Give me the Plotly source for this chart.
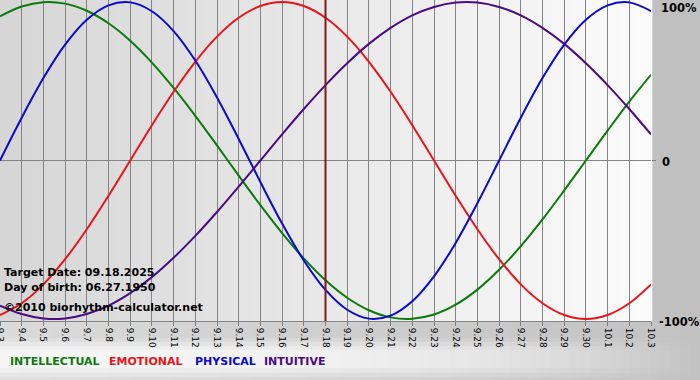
import plotly.graph_objects as go

# ---------------- data ----------------
dates = ["9.3", "9.4", "9.5", "9.6", "9.7", "9.8", "9.9", "9.10", "9.11", "9.12",
         "9.13", "9.14", "9.15", "9.16", "9.17", "9.18", "9.19", "9.20", "9.21",
         "9.22", "9.23", "9.24", "9.25", "9.26", "9.27", "9.28", "9.29", "9.30",
         "10.1", "10.2", "10.3"]

intellectual = [0.910, 0.972, 0.999, 0.990, 0.945, 0.866, 0.756, 0.618, 0.458, 0.282,
                0.095, -0.095, -0.282, -0.458, -0.618, -0.756, -0.866, -0.945, -0.990,
                -0.999, -0.972, -0.910, -0.815, -0.690, -0.541, -0.372, -0.189, 0.000,
                0.189, 0.372, 0.541]

emotional = [-0.975, -0.901, -0.782, -0.623, -0.434, -0.223, 0.000, 0.223, 0.434, 0.623,
             0.782, 0.901, 0.975, 1.000, 0.975, 0.901, 0.782, 0.623, 0.434, 0.223,
             0.000, -0.223, -0.434, -0.623, -0.782, -0.901, -0.975, -1.000, -0.975,
             -0.901, -0.782]

physical = [0.000, 0.270, 0.520, 0.731, 0.888, 0.979, 0.998, 0.942, 0.817, 0.631,
            0.398, 0.136, -0.136, -0.398, -0.631, -0.817, -0.942, -0.998, -0.979,
            -0.888, -0.731, -0.520, -0.270, 0.000, 0.270, 0.520, 0.731, 0.888, 0.979,
            0.998, 0.942]

intuitive = [-0.916, -0.969, -0.997, -0.997, -0.969, -0.916, -0.837, -0.736, -0.614,
             -0.476, -0.325, -0.165, 0.000, 0.165, 0.325, 0.476, 0.614, 0.736, 0.837,
             0.916, 0.969, 0.997, 0.997, 0.969, 0.916, 0.837, 0.736, 0.614, 0.476,
             0.325, 0.165]

series_names = ["INTELLECTUAL", "EMOTIONAL", "PHYSICAL", "INTUITIVE"]
target_date = "9.18"
target_text = "Target Date: 09.18.2025"
birth_text = "Day of birth: 06.27.1950"
credit_text = "\u00a92010 biorhythm-calculator.net"
y_labels = ["100%", "0", "-100%"]

# ---------------- style ----------------
W, H = 700, 380
PL, PR, PT, PB = 0, 651, 0, 321          # plot area in pixels
colors = {"INTELLECTUAL": "#0b7a0b", "EMOTIONAL": "#e8141c",
          "PHYSICAL": "#0a0acc", "INTUITIVE": "#4b0a82"}
bold = "DejaVu Sans"


def px_x(p):
    return (p - PL) / (PR - PL)


def px_y(p):
    return (PB - p) / (PB - PT)


def mix(c1, c2, t):
    a = [int(c1[i:i + 2], 16) for i in (1, 3, 5)]
    b = [int(c2[i:i + 2], 16) for i in (1, 3, 5)]
    return "#%02x%02x%02x" % tuple(round(a[k] + (b[k] - a[k]) * t) for k in range(3))


fig = go.Figure()

values = {"INTELLECTUAL": intellectual, "EMOTIONAL": emotional,
          "PHYSICAL": physical, "INTUITIVE": intuitive}
for name in series_names:
    fig.add_trace(go.Scatter(
        x=dates, y=values[name], mode="lines", name=name,
        line=dict(color=colors[name], width=2, shape="spline", smoothing=1.0),
        hoverinfo="skip", showlegend=False))

shapes = []
# paper background below the plot: horizontal gradient + lighter legend band
N = 70
rows = [(321, 338, 0.0), (338, 342, 0.2), (342, 346, 0.45), (346, 350, 0.7),
        (350, 368, 0.85), (368, 373, 0.65), (373, 377, 0.4), (377, 381, 0.2)]
for y0, y1, op in rows:
    for i in range(N):
        x0 = i * W / N
        x1 = (i + 1) * W / N + 0.6
        t = i / (N - 1)
        base = mix("#dadada", "#c2c2c2", t)
        col = mix(base, "#fafafa", op * max(0.0, 1 - t ** 3))
        shapes.append(dict(type="rect", xref="paper", yref="paper", layer="below",
                           x0=px_x(x0), x1=px_x(x1), y0=px_y(y1), y1=px_y(y0),
                           fillcolor=col, line=dict(width=0)))
# right column
shapes.append(dict(type="rect", xref="paper", yref="paper", layer="below",
                   x0=1, x1=px_x(W + 1), y0=0, y1=1, fillcolor="#c0c0c0",
                   line=dict(width=0)))
# plot area gradient
M = 80
for i in range(M):
    shapes.append(dict(type="rect", xref="paper", yref="paper", layer="below",
                       x0=i / M, x1=(i + 1) / M + 0.002, y0=0, y1=1,
                       fillcolor=mix("#d6d6d6", "#fbfbfb", i / (M - 1)),
                       line=dict(width=0)))
# target date line
ti = dates.index(target_date)
shapes.append(dict(type="line", xref="x", yref="paper", layer="above",
                   x0=ti, x1=ti, y0=0, y1=1, line=dict(color="#7e1b1b", width=2)))

annotations = []
for txt, yp in [(target_text, 272), (birth_text, 287), (credit_text, 307)]:
    annotations.append(dict(text=txt, xref="paper", yref="paper", x=px_x(2),
                            y=px_y(yp), xanchor="left", yanchor="middle",
                            showarrow=False,
                            font=dict(family=bold, size=11, color="#000000",
                                      weight="bold")))
for txt, xp in zip(series_names, [8, 107, 193, 262]):
    annotations.append(dict(text=txt, xref="paper", yref="paper", x=px_x(xp),
                            y=px_y(362), xanchor="left", yanchor="middle",
                            showarrow=False,
                            font=dict(family=bold, size=11, color=colors[txt],
                                      weight="bold")))
for txt, yp, xp in zip(y_labels, [8, 162, 322], [659, 660, 657]):
    annotations.append(dict(text=txt, xref="paper", yref="paper", x=px_x(xp),
                            y=px_y(yp), xanchor="left", yanchor="middle",
                            showarrow=False,
                            font=dict(family=bold, size=11.5, color="#000000",
                                      weight="bold")))

fig.update_layout(
    width=W, height=H,
    margin=dict(l=PL, r=W - PR, t=PT, b=H - PB, pad=0),
    paper_bgcolor="#c8c8c8", plot_bgcolor="#e4e4e4",
    shapes=shapes, annotations=annotations,
    showlegend=False,
    xaxis=dict(type="category", range=[0, len(dates) - 1], tickmode="array",
               tickvals=dates, ticktext=dates, tickangle=90,
               tickfont=dict(family="DejaVu Sans", size=9, color="#000000"),
               ticks="outside", ticklen=4, tickcolor="#808080", tickwidth=1,
               showgrid=True, gridcolor="#858585", gridwidth=1,
               showline=True, linecolor="#858585", linewidth=1,
               zeroline=False, automargin=False, fixedrange=True),
    yaxis=dict(range=[-1.013, 1.013], side="right", tickmode="array",
               tickvals=[0], showticklabels=False,
               ticks="outside", ticklen=4, tickcolor="#808080",
               showgrid=True, gridcolor="#858585", gridwidth=1,
               zeroline=False, showline=False, automargin=False, fixedrange=True),
)

fig.write_html("out.html")
